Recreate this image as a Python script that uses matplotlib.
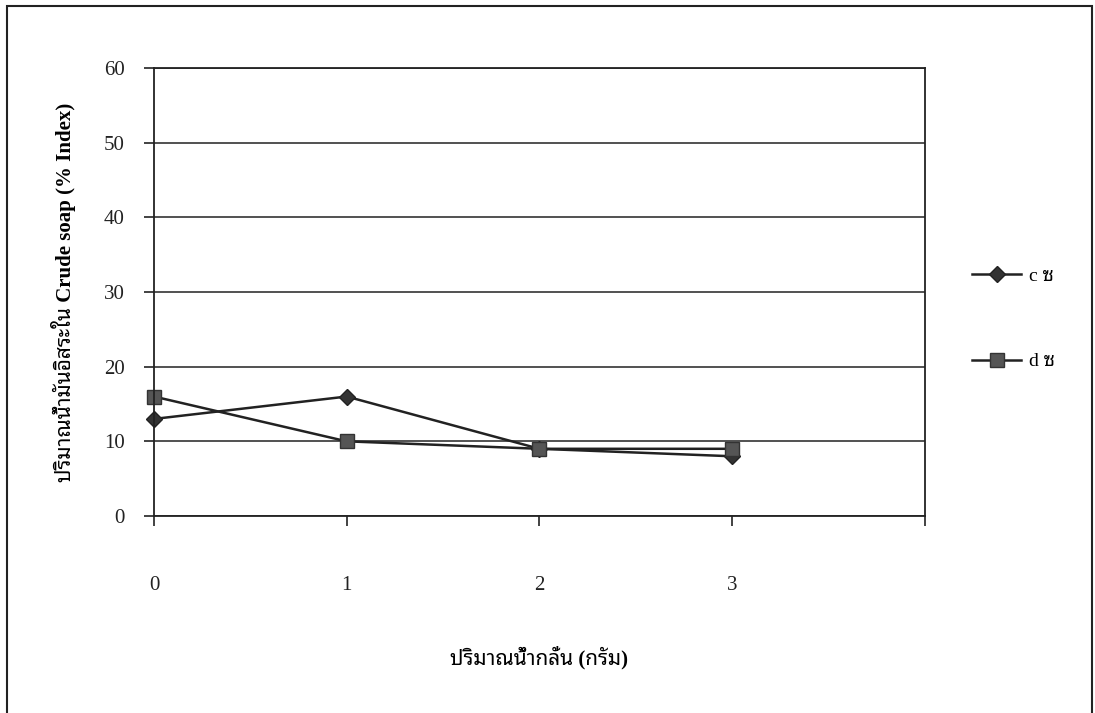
import numpy as np
import matplotlib
matplotlib.use("Agg")
import matplotlib.pyplot as plt
from matplotlib.patches import Rectangle

x = [0, 1, 2, 3]
c_values = [13, 16, 9, 8]
d_values = [16, 10, 9, 9]
y_ticks = [0, 10, 20, 30, 40, 50, 60]
x_ticks = [0, 1, 2, 3]
series_names = ["c ซ", "d ซ"]
x_title = "ปริมาณน้ำกลั่น (กรัม)"
y_title = "ปริมาณน้ำมันอิสระใน Crude soap (% Index)"

# serif for the latin text, a Thai family for the rest
fam = ["Liberation Serif", "Noto Sans Thai Looped", "DejaVu Sans"]

fig = plt.figure(figsize=(10.95, 7.13), dpi=100)
fig.patch.set_facecolor("white")
fig.patches.append(Rectangle((0.0064, -0.01), 0.991, 1.0016, transform=fig.transFigure,
                             fill=False, edgecolor="#222222", linewidth=1.5))

ax = fig.add_axes([0.1406, 0.2763, 0.7041, 0.6283])
ax.set_xlim(0, 4)
ax.set_ylim(0, 60)
ax.set_yticks(y_ticks)
ax.set_xticks([0, 1, 2, 3, 4])
ax.set_xticklabels([str(v) for v in x_ticks] + [""])
ax.yaxis.grid(True, color="#222222", linewidth=1.1)
ax.set_axisbelow(True)
for s in ax.spines.values():
    s.set_color("#222222")
    s.set_linewidth(1.3)
ax.tick_params(axis="both", direction="out", length=7, width=1.2, colors="#222222",
               labelsize=15)
ax.tick_params(axis="x", pad=36)
ax.tick_params(axis="y", pad=14)
for lbl in ax.get_xticklabels() + ax.get_yticklabels():
    lbl.set_family(fam)

lc, = ax.plot(x, c_values, color="#222222", linewidth=1.8, marker="D", markersize=8,
              markerfacecolor="#333333", markeredgecolor="#222222", clip_on=False)
ld, = ax.plot(x, d_values, color="#222222", linewidth=1.8, marker="s", markersize=10,
              markerfacecolor="#555555", markeredgecolor="#333333", clip_on=False)

ax.set_xlabel(x_title, family=fam, fontsize=15, fontweight="bold", labelpad=37)
ax.set_ylabel(y_title, family=fam, fontsize=15, fontweight="bold", labelpad=20)

leg = fig.legend([lc, ld], series_names, loc="center left",
                 bbox_to_anchor=(0.872, 0.553), frameon=False,
                 prop={"family": fam, "size": 14}, labelspacing=3.5,
                 handlelength=2.5, handletextpad=0.4)

fig.savefig("out.png", dpi=100, facecolor="white")
